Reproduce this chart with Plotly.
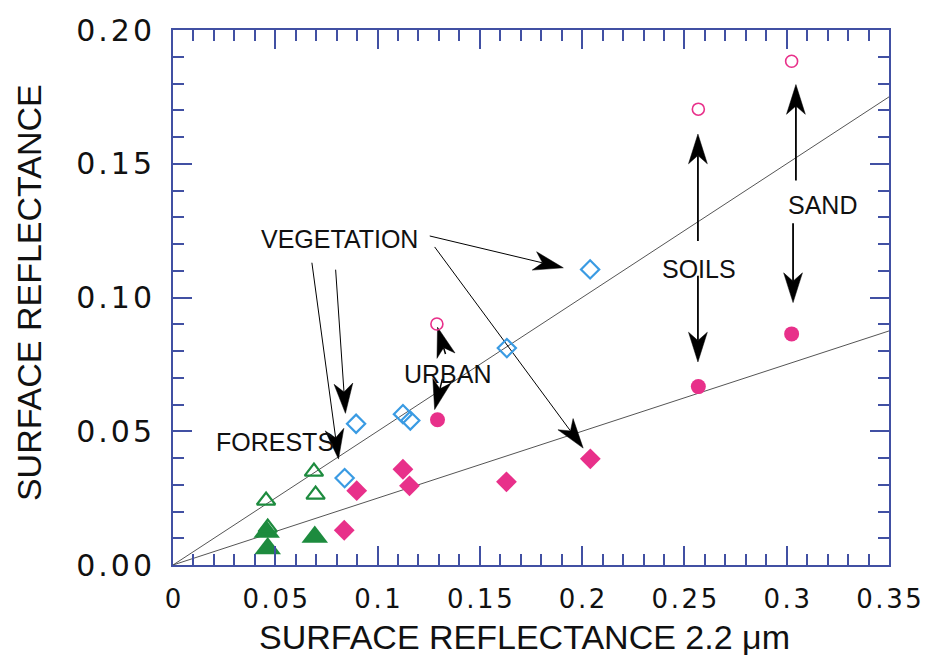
import plotly.graph_objects as go
import numpy as np

# ---------------- data ----------------
veg_open_x = [0.2039, 0.1632, 0.1124, 0.1160, 0.0895, 0.0839]
veg_open_y = [0.1105, 0.0811, 0.0564, 0.0540, 0.0528, 0.0325]

veg_fill_x = [0.2040, 0.1630, 0.1124, 0.1156, 0.0898, 0.0837]
veg_fill_y = [0.0397, 0.0311, 0.0358, 0.0296, 0.0278, 0.0130]

circ_open_x = [0.1290, 0.2568, 0.3024]
circ_open_y = [0.0901, 0.1704, 0.1883]

circ_fill_x = [0.1293, 0.2568, 0.3024]
circ_fill_y = [0.0543, 0.0667, 0.0864]

for_open_x = [0.0455, 0.0689, 0.0697, 0.0463]
for_open_y = [0.0241, 0.0349, 0.0263, 0.0140]

for_fill_x = [0.0458, 0.0463, 0.0693]
for_fill_y = [0.0123, 0.0062, 0.0105]

line_slopes = [0.5, 0.25]
line_x_end = 0.35

x_tickvals = [0, 0.05, 0.1, 0.15, 0.2, 0.25, 0.3, 0.35]
x_ticktext = ["0", "0.05", "0.1", "0.15", "0.2", "0.25", "0.3", "0.35"]
y_tickvals = [0, 0.05, 0.1, 0.15, 0.2]
y_ticktext = ["0.00", "0.05", "0.10", "0.15", "0.20"]

# labels (text, x, y)
label_text = ["VEGETATION", "FORESTS", "URBAN", "SOILS", "SAND"]
label_x = [0.0815, 0.0500, 0.1342, 0.2571, 0.3175]
label_y = [0.1219, 0.0459, 0.0715, 0.1107, 0.1344]

# arrows: tail (x0,y0) -> tip (x1,y1)
arrow_x0 = [0.1255, 0.1279, 0.0679, 0.0795, 0.1332, 0.1317, 0.2566, 0.2566, 0.3045, 0.3031]
arrow_y0 = [0.1230, 0.1189, 0.1130, 0.1104, 0.0789, 0.0696, 0.1211, 0.1081, 0.1437, 0.1278]
arrow_x1 = [0.1908, 0.2005, 0.0809, 0.0843, 0.1293, 0.1279, 0.2566, 0.2566, 0.3045, 0.3031]
arrow_y1 = [0.1111, 0.0437, 0.0396, 0.0567, 0.0889, 0.0581, 0.1611, 0.0759, 0.1796, 0.0981]
arrow_w = [1.0, 1.0, 1.0, 1.0, 1.5, 1.5, 1.8, 1.8, 1.8, 1.8]

# ---------------- layout constants ----------------
W, H = 934, 657
ML, MR, MT, MB = 173, 38, 25, 92
XR = [0, 0.35]
YR = [0, 0.20]
sx = (W - ML - MR) / (XR[1] - XR[0])
sy = (H - MT - MB) / (YR[1] - YR[0])

AXC = "#4150a3"
BLUE = "#3a9be3"
PINK = "#e8308a"
GREEN = "#1d8b3e"


def spaced(s, sp):
    return sp.join(list(s))


fig = go.Figure()

# reference lines
for s in line_slopes:
    fig.add_trace(go.Scatter(x=[0, line_x_end], y=[0, s * line_x_end], mode="lines",
                             line=dict(color="#555555", width=1), hoverinfo="skip"))

# arrows (shaft + head polygon computed in pixel space)
L, HW, NOTCH = 30.0, 9.5, 0.72
for x0, y0, x1, y1, w in zip(arrow_x0, arrow_y0, arrow_x1, arrow_y1, arrow_w):
    dx = (x1 - x0) * sx
    dy = (y1 - y0) * sy
    n = np.hypot(dx, dy)
    ux, uy = dx / n, dy / n
    px, py = -uy, ux
    def tod(ax_, ay_):
        return x1 + ax_ / sx, y1 + ay_ / sy
    bl = tod(-L * ux + HW * px, -L * uy + HW * py)
    br = tod(-L * ux - HW * px, -L * uy - HW * py)
    nb = tod(-NOTCH * L * ux, -NOTCH * L * uy)
    fig.add_trace(go.Scatter(x=[x0, nb[0]], y=[y0, nb[1]], mode="lines",
                             line=dict(color="black", width=w), hoverinfo="skip"))
    fig.add_trace(go.Scatter(x=[x1, bl[0], nb[0], br[0], x1], y=[y1, bl[1], nb[1], br[1], y1],
                             mode="lines", fill="toself", fillcolor="black",
                             line=dict(color="black", width=0.5), hoverinfo="skip"))

# markers
fig.add_trace(go.Scatter(x=veg_open_x, y=veg_open_y, mode="markers",
                         marker=dict(symbol="diamond-open", size=14, color=BLUE, line=dict(width=2.2, color=BLUE))))
fig.add_trace(go.Scatter(x=veg_fill_x, y=veg_fill_y, mode="markers",
                         marker=dict(symbol="diamond", size=16, color=PINK, line=dict(width=0))))
fig.add_trace(go.Scatter(x=circ_open_x, y=circ_open_y, mode="markers",
                         marker=dict(symbol="circle-open", size=12, color=PINK, line=dict(width=1.6, color=PINK))))
fig.add_trace(go.Scatter(x=circ_fill_x, y=circ_fill_y, mode="markers",
                         marker=dict(symbol="circle", size=15, color=PINK, line=dict(width=0))))
fig.add_trace(go.Scatter(x=for_fill_x, y=for_fill_y, mode="markers",
                         marker=dict(symbol="triangle-up", size=23, color=GREEN, line=dict(width=0))))
fig.add_trace(go.Scatter(x=for_open_x, y=for_open_y, mode="markers",
                         marker=dict(symbol="triangle-up-open", size=16, color=GREEN, line=dict(width=2.2, color=GREEN))))

ann_font = dict(family="Liberation Sans, Arial", size=25, color="#111111")
annotations = []
for t, x, y in zip(label_text, label_x, label_y):
    annotations.append(dict(x=x, y=y, xref="x", yref="y", text=t, showarrow=False,
                            font=ann_font, xanchor="center", yanchor="middle"))

annotations.append(dict(x=0.491, y=(0 - 73) / (H - MT - MB), xref="paper", yref="paper",
                        text="SURFACE REFLECTANCE 2.2 \u03bcm", showarrow=False,
                        font=dict(family="Liberation Sans, Arial", size=34, color="#111111"),
                        xanchor="center", yanchor="middle"))
annotations.append(dict(x=(27 - ML) / (W - ML - MR), y=0.509, xref="paper", yref="paper",
                        text="SURFACE REFLECTANCE", showarrow=False,
                        font=dict(family="Liberation Sans, Arial", size=34, color="#111111"), textangle=-90,
                        xanchor="center", yanchor="middle"))

axis_common = dict(showgrid=False, zeroline=False, showline=True, linecolor=AXC, linewidth=2,
                   mirror="ticks", ticks="inside", ticklen=19, tickwidth=2, tickcolor=AXC)

fig.update_layout(
    width=W, height=H, margin=dict(l=ML, r=MR, t=MT, b=MB),
    plot_bgcolor="white", paper_bgcolor="white", showlegend=False,
    annotations=annotations,
    xaxis=dict(range=XR, tickmode="array", tickvals=x_tickvals,
               ticktext=[spaced(t, "\u200a") for t in x_ticktext],
               tickfont=dict(family="DejaVu Sans", size=26, color="#111111"), ticklabelstandoff=10,
               minor=dict(dtick=0.01, ticks="inside", ticklen=11, tickwidth=2, tickcolor=AXC, showgrid=False),
               **axis_common),
    yaxis=dict(range=YR, tickmode="array", tickvals=y_tickvals,
               ticktext=[spaced(t, "\u200a") for t in y_ticktext],
               tickfont=dict(family="DejaVu Sans", size=30, color="#111111"), ticklabelstandoff=13,
               minor=dict(dtick=0.01, ticks="inside", ticklen=11, tickwidth=2, tickcolor=AXC, showgrid=False),
               **axis_common),
)

fig.write_html("out.html")
